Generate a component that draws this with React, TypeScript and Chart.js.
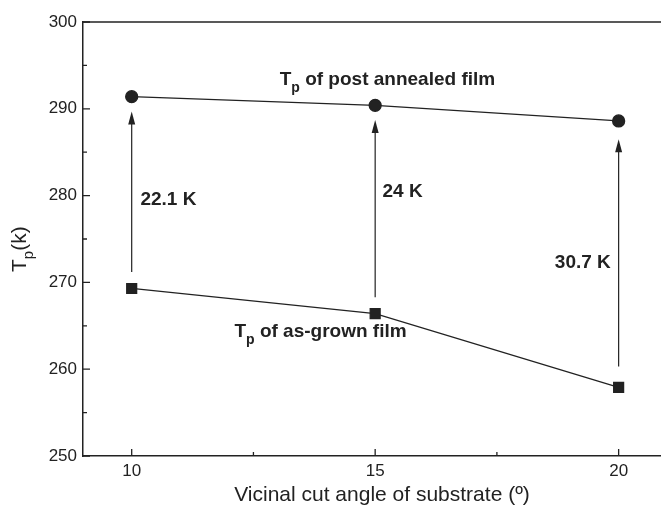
import React, { useEffect, useRef } from "react";
import { Chart, registerables } from "chart.js";

Chart.register(...registerables);

const angles = [10, 15, 20];
const annealed = [291.4, 290.4, 288.6];
const asGrown = [269.3, 266.4, 257.9];
const arrowFrom = [271.2, 268.3, 260.3];
const arrowTo = [289.7, 288.7, 286.5];
const gapLabels = ["22.1 K", "24 K", "30.7 K"];
const gapLabelX = [10.18, 15.15, 18.69];
const gapLabelY = [279.5, 280.4, 272.3];
const xTicks = [10, 15, 20];
const xMinor = [12.5, 17.5];
const yTicks = [250, 260, 270, 280, 290, 300];
const yMinor = [255, 265, 275, 285, 295];

const FONT = '"Liberation Sans", Arial, Helvetica, sans-serif';
const INK = "#222";

function drawSubText(ctx: CanvasRenderingContext2D, x: number, y: number, main: string, sub: string, rest: string, size: number, subSize: number, bold: boolean) {
  const w = bold ? "bold " : "";
  ctx.textBaseline = "middle";
  ctx.textAlign = "left";
  ctx.font = `${w}${size}px ${FONT}`;
  ctx.fillText(main, x, y);
  let cx = x + ctx.measureText(main).width;
  ctx.font = `${w}${subSize}px ${FONT}`;
  ctx.fillText(sub, cx, y + size * 0.42);
  cx += ctx.measureText(sub).width;
  ctx.font = `${w}${size}px ${FONT}`;
  ctx.fillText(rest, cx, y);
}

const overlay = {
  id: "overlay",
  afterDraw(chart: any) {
    const { ctx, chartArea } = chart;
    const xs = chart.scales.x;
    const ys = chart.scales.y;
    ctx.save();
    ctx.strokeStyle = INK;
    ctx.fillStyle = INK;
    ctx.lineWidth = 1.5;
    ctx.beginPath();
    ctx.moveTo(chartArea.left, chartArea.top);
    ctx.lineTo(chartArea.right, chartArea.top);
    ctx.stroke();
    ctx.lineWidth = 1.3;
    ctx.beginPath();
    for (const v of yTicks) {
      const py = ys.getPixelForValue(v);
      ctx.moveTo(chartArea.left, py);
      ctx.lineTo(chartArea.left + 7, py);
    }
    for (const v of yMinor) {
      const py = ys.getPixelForValue(v);
      ctx.moveTo(chartArea.left, py);
      ctx.lineTo(chartArea.left + 4, py);
    }
    for (const v of xTicks) {
      const px = xs.getPixelForValue(v);
      ctx.moveTo(px, chartArea.bottom);
      ctx.lineTo(px, chartArea.bottom - 7);
    }
    for (const v of xMinor) {
      const px = xs.getPixelForValue(v);
      ctx.moveTo(px, chartArea.bottom);
      ctx.lineTo(px, chartArea.bottom - 4);
    }
    ctx.stroke();
    ctx.lineWidth = 1.2;
    angles.forEach((a, i) => {
      const px = xs.getPixelForValue(a);
      const y0 = ys.getPixelForValue(arrowFrom[i]);
      const y1 = ys.getPixelForValue(arrowTo[i]);
      ctx.beginPath();
      ctx.moveTo(px, y0);
      ctx.lineTo(px, y1 + 10);
      ctx.stroke();
      ctx.beginPath();
      ctx.moveTo(px, y1);
      ctx.lineTo(px - 3.5, y1 + 13);
      ctx.lineTo(px + 3.5, y1 + 13);
      ctx.closePath();
      ctx.fill();
    });
    ctx.font = `bold 19px ${FONT}`;
    ctx.textBaseline = "middle";
    ctx.textAlign = "left";
    gapLabels.forEach((t, i) => {
      ctx.fillText(t, xs.getPixelForValue(gapLabelX[i]), ys.getPixelForValue(gapLabelY[i]));
    });
    drawSubText(ctx, xs.getPixelForValue(13.04), ys.getPixelForValue(293.3), "T", "p", " of post annealed film", 19, 14, true);
    drawSubText(ctx, xs.getPixelForValue(12.11), ys.getPixelForValue(264.3), "T", "p", " of as-grown film", 19, 14, true);
    ctx.font = `21px ${FONT}`;
    ctx.textAlign = "center";
    ctx.textBaseline = "middle";
    ctx.fillText("Vicinal cut angle of substrate (º)", 382, 495);
    ctx.translate(20, 272);
    ctx.rotate(-Math.PI / 2);
    drawSubText(ctx, 0, 0, "T", "p", "(k)", 21, 15, false);
    ctx.restore();
  },
};

export default function App() {
  const ref = useRef<HTMLCanvasElement>(null);
  useEffect(() => {
    document.body.style.margin = "0";
    const chart = new Chart(ref.current!, {
      type: "scatter",
      data: {
        datasets: [
          {
            data: angles.map((a, i) => ({ x: a, y: annealed[i] })),
            showLine: true,
            borderColor: INK,
            backgroundColor: INK,
            borderWidth: 1.3,
            pointStyle: "circle",
            pointRadius: 6,
          },
          {
            data: angles.map((a, i) => ({ x: a, y: asGrown[i] })),
            showLine: true,
            borderColor: INK,
            backgroundColor: INK,
            borderWidth: 1.3,
            pointStyle: "rect",
            pointRadius: 7,
          },
        ],
      },
      options: {
        responsive: false,
        animation: false,
        layout: { autoPadding: false, padding: { top: 22, left: 0, right: 0, bottom: 0 } },
        plugins: { legend: { display: false }, tooltip: { enabled: false } },
        scales: {
          x: {
            type: "linear",
            min: 9,
            max: 20.87,
            grid: { display: false, drawTicks: false },
            border: { display: true, color: INK, width: 1.5 },
            afterBuildTicks: (s: any) => {
              s.ticks = xTicks.map((v) => ({ value: v }));
            },
            afterFit: (s: any) => {
              s.height = 53;
              s.paddingLeft = 0;
              s.paddingRight = 0;
            },
            ticks: { font: { family: FONT, size: 17 }, color: INK, padding: 5, maxRotation: 0 },
          },
          y: {
            min: 250,
            max: 300,
            grid: { display: false, drawTicks: false },
            border: { display: true, color: INK, width: 1.5 },
            afterBuildTicks: (s: any) => {
              s.ticks = yTicks.map((v) => ({ value: v }));
            },
            afterFit: (s: any) => {
              s.width = 83;
              s.paddingTop = 0;
              s.paddingBottom = 0;
            },
            ticks: { font: { family: FONT, size: 17 }, color: INK, padding: 6 },
          },
        },
      },
      plugins: [overlay],
    });
    return () => chart.destroy();
  }, []);
  return (
    <div style={{ position: "fixed", left: 0, top: 0, width: 661, height: 509, background: "#fff" }}>
      <canvas ref={ref} width={661} height={509} />
    </div>
  );
}
